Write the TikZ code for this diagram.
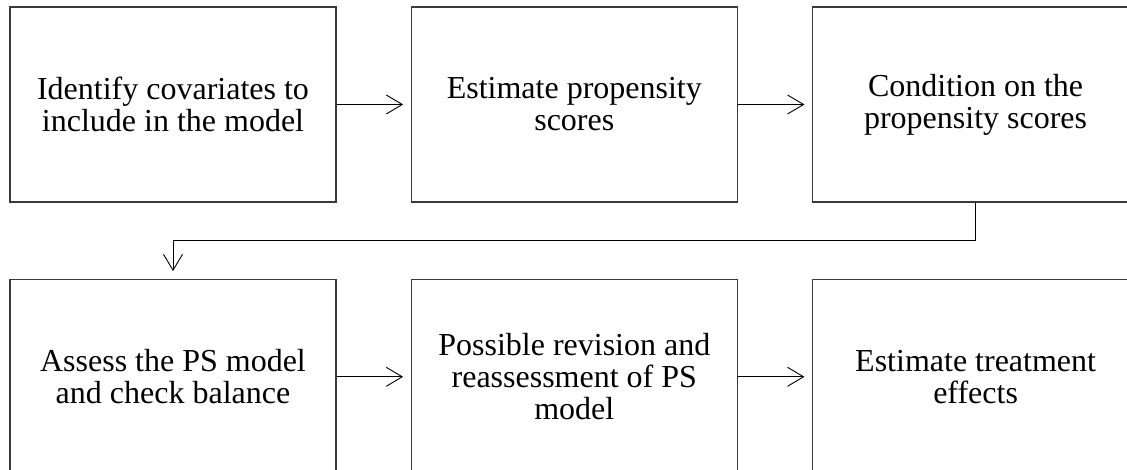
\documentclass[tikz,border=0pt]{standalone}
\usepackage{fontspec}
\setmainfont{Liberation Serif}
\usepackage{tikz}
\usetikzlibrary{arrows.meta,positioning}
\definecolor{psEdge}{HTML}{3A3A3A}
\definecolor{psArrow}{HTML}{000000}
\tikzset{
  arr/.style={-{Straight Barb[length=16pt,width=19pt]}, line width=0.9pt, draw=psArrow, shorten >=7.5pt},
  stepbox/.style={draw=psEdge, line width=1.3pt, fill=white, align=center, minimum width=326pt, minimum height=195pt, inner sep=0pt, font=\fontsize{32}{32}\selectfont}
}
\begin{document}
\begin{tikzpicture}[x=1pt,y=-1pt]
  \path[use as bounding box, clip] (0,0) rectangle (1127,470);
  % top row
  \node[stepbox] (ident) at (173,104.5) {Identify covariates to\\include in the model};
  \node[stepbox, right=74pt of ident] (estps) {Estimate propensity\\scores};
  \node[stepbox, right=74pt of estps] (condps) {Condition on the\\propensity scores};
  % bottom row
  \node[stepbox, below=76pt of ident] (assess) {Assess the PS model\\and check balance};
  \node[stepbox, right=74pt of assess] (revise) {Possible revision and\\reassessment of PS\\model};
  \node[stepbox, right=74pt of revise] (effect) {Estimate treatment\\effects};
  % connectors
  \draw[arr] (ident.east) -- (estps.west);
  \draw[arr] (estps.east) -- (condps.west);
  \draw[arr] (condps.south) -- ++(0,38) -| (assess.north);
  \draw[arr] (assess.east) -- (revise.west);
  \draw[arr] (revise.east) -- (effect.west);
\end{tikzpicture}
\end{document}
